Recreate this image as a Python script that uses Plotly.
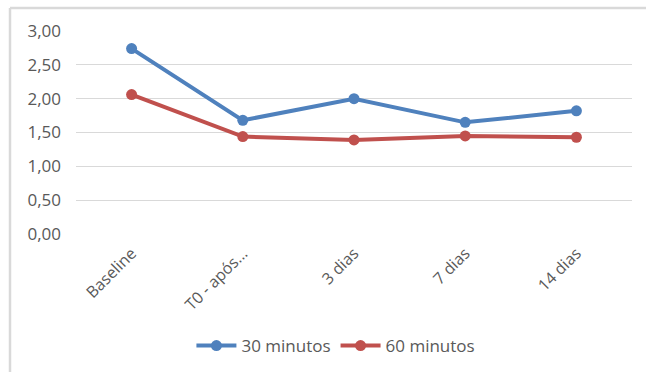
import plotly.graph_objects as go

categories = ["Baseline", "T0 - após...", "3 dias", "7 dias", "14 dias"]
serie_30 = [2.74, 1.68, 2.00, 1.65, 1.82]
serie_60 = [2.06, 1.44, 1.39, 1.45, 1.43]
y_ticks = [0, 0.5, 1.0, 1.5, 2.0, 2.5, 3.0]

W, H = 646, 372
L, R, T, B = 76, 14, 31, 138
pw = W - L - R
ph = H - T - B

font_family = "Open Sans, Noto Sans, sans-serif"
text_color = "#595959"

fig = go.Figure()
fig.add_trace(go.Scatter(
    x=categories, y=serie_30, name="30 minutos", mode="lines+markers",
    line=dict(color="#4F81BD", width=4),
    marker=dict(color="#4F81BD", size=11),
))
fig.add_trace(go.Scatter(
    x=categories, y=serie_60, name="60 minutos", mode="lines+markers",
    line=dict(color="#C0504D", width=4),
    marker=dict(color="#C0504D", size=11),
))

# outer chart frame (top and left edges)
x0 = (10 - L) / pw
x1 = (W + 5 - L) / pw
y_top = 1 + (T - 8) / ph
y_bot = -(B + 5) / ph
fig.add_shape(type="line", xref="paper", yref="paper", x0=x0, x1=x1, y0=y_top, y1=y_top,
              line=dict(color="#D9D9D9", width=2.5))
fig.add_shape(type="line", xref="paper", yref="paper", x0=x0, x1=x0, y0=y_top, y1=y_bot,
              line=dict(color="#D9D9D9", width=2.5))

fig.update_layout(
    width=W, height=H,
    margin=dict(l=L, r=R, t=T, b=B, autoexpand=False),
    paper_bgcolor="white", plot_bgcolor="white",
    separators=",.",
    font=dict(family=font_family, size=16, color=text_color),
    showlegend=True,
    legend=dict(orientation="h", xref="container", yref="container",
                x=0.52, xanchor="center", y=1 - 346 / H, yanchor="middle",
                font=dict(size=17, color=text_color), itemwidth=40,
                tracegroupgap=0),
    xaxis=dict(type="category", tickangle=-45, showgrid=False, zeroline=False,
               showline=False, ticks="", automargin=False, ticklabelstandoff=6,
               tickfont=dict(size=16, color=text_color),
               range=[-0.5, len(categories) - 0.5]),
    yaxis=dict(range=[0, 3], tickvals=y_ticks, tickformat=".2f", showgrid=True,
               gridcolor="#D9D9D9", gridwidth=1, zeroline=False, showline=False,
               ticks="", ticklen=0, automargin=False, ticklabelstandoff=14,
               tickfont=dict(size=17, color=text_color)),
)

fig.write_html("out.html")
